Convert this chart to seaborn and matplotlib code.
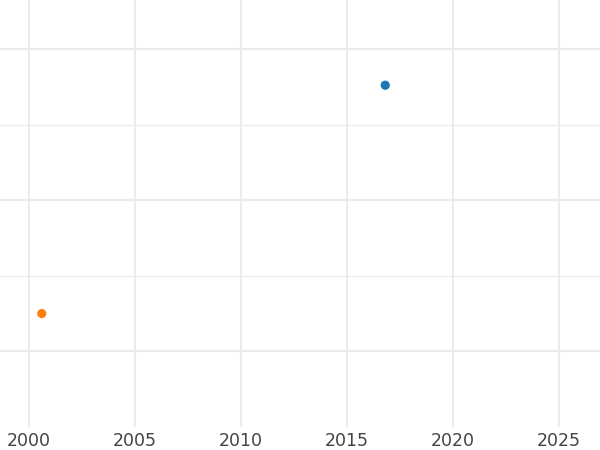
import matplotlib
matplotlib.use("Agg")
import matplotlib.pyplot as plt
import seaborn as sns
import pandas as pd
from matplotlib.ticker import MultipleLocator

series = ["A", "B"]
years = [2016.8, 2000.6]
values = [4.52, 1.50]
colors = ["#1f77b4", "#ff7f0e"]
xticks = [2000, 2005, 2010, 2015, 2020, 2025]

df = pd.DataFrame({"series": series, "year": years, "value": values})

sns.set_style("white")
plt.rcParams['font.family'] = ['DejaVu Sans']

fig = plt.figure(figsize=(6, 4.5), dpi=100)
ax = fig.add_axes([0, 23/450, 1, 427/450])

sns.scatterplot(data=df, x="year", y="value", hue="series", palette=colors,
                s=44, edgecolor="none", legend=False, ax=ax, zorder=3)

ax.set_xlim(1998.63, 2026.93)
ax.set_ylim(0, 5.647)
ax.set_xticks(xticks)
ax.set_xticklabels([str(t) for t in xticks])
ax.yaxis.set_major_locator(MultipleLocator(2, offset=1))
ax.yaxis.set_minor_locator(MultipleLocator(1))
ax.set_yticklabels([])
ax.grid(True, axis="x", color="#ebebeb", linewidth=1.5)
ax.grid(True, axis="y", which="major", color="#ebebeb", linewidth=1.6)
ax.grid(True, axis="y", which="minor", color="#ebebeb", linewidth=0.9)
ax.tick_params(axis="both", which="both", length=0)
ax.tick_params(axis="x", labelsize=12.5, labelcolor="#444444", pad=3.5)
ax.tick_params(axis="y", labelleft=False)
ax.set_xlabel("")
ax.set_ylabel("")
for s in ax.spines.values():
    s.set_visible(False)
ax.set_axisbelow(True)

fig.savefig("out.png", dpi=100)
